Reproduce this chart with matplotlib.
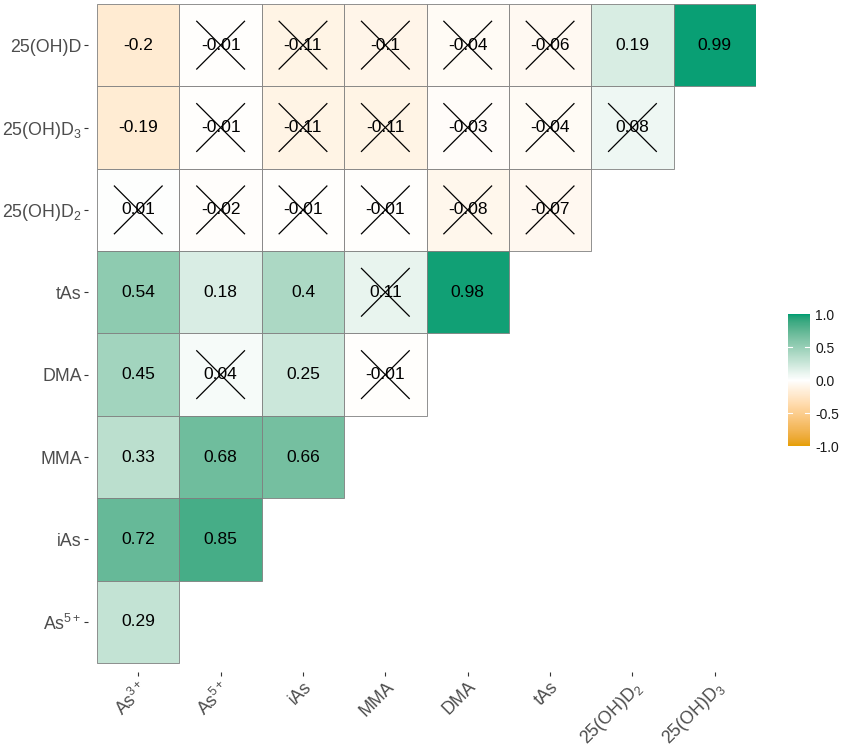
import numpy as np
import matplotlib
matplotlib.use("Agg")
import matplotlib.pyplot as plt
from matplotlib.colors import ListedColormap, Normalize, to_rgb
from matplotlib.patches import Rectangle

plt.rcParams['font.family'] = ['Liberation Sans', 'DejaVu Sans']
plt.rcParams['mathtext.fontset'] = 'custom'
plt.rcParams['mathtext.rm'] = 'Liberation Sans'
plt.rcParams['mathtext.it'] = 'Liberation Sans'

# --- données ---
row_labels = ["25(OH)D", "25(OH)D$_3$", "25(OH)D$_2$", "tAs", "DMA", "MMA", "iAs", "As$^{5+}$"]
col_labels = ["As$^{3+}$", "As$^{5+}$", "iAs", "MMA", "DMA", "tAs", "25(OH)D$_2$", "25(OH)D$_3$"]

r_25ohd = [-0.2, -0.01, -0.11, -0.1, -0.04, -0.06, 0.19, 0.99]
r_d3 = [-0.19, -0.01, -0.11, -0.11, -0.03, -0.04, 0.08]
r_d2 = [0.01, -0.02, -0.01, -0.01, -0.08, -0.07]
r_tas = [0.54, 0.18, 0.4, 0.11, 0.98]
r_dma = [0.45, 0.04, 0.25, -0.01]
r_mma = [0.33, 0.68, 0.66]
r_ias = [0.72, 0.85]
r_as5 = [0.29]

# 1 = non significatif (croix)
ns_25ohd = [0, 1, 1, 1, 1, 1, 0, 0]
ns_d3 = [0, 1, 1, 1, 1, 1, 1]
ns_d2 = [1, 1, 1, 1, 1, 1]
ns_tas = [0, 0, 0, 1, 0]
ns_dma = [0, 1, 0, 1]
ns_mma = [0, 0, 0]
ns_ias = [0, 0]
ns_as5 = [0]

rows = [r_25ohd, r_d3, r_d2, r_tas, r_dma, r_mma, r_ias, r_as5]
flags = [ns_25ohd, ns_d3, ns_d2, ns_tas, ns_dma, ns_mma, ns_ias, ns_as5]


# --- palette interpolée en Lab (comme ggplot) ---
def rgb_to_lab(c):
    c = np.array(c)
    lin = np.where(c <= 0.04045, c / 12.92, ((c + 0.055) / 1.055) ** 2.4)
    m = np.array([[0.4124, 0.3576, 0.1805], [0.2126, 0.7152, 0.0722], [0.0193, 0.1192, 0.9505]])
    xyz = m @ lin / np.array([0.95047, 1.0, 1.08883])
    f = np.where(xyz > 0.008856, np.cbrt(xyz), 7.787 * xyz + 16 / 116)
    return np.array([116 * f[1] - 16, 500 * (f[0] - f[1]), 200 * (f[1] - f[2])])


def lab_to_rgb(lab):
    fy = (lab[0] + 16) / 116
    fx = fy + lab[1] / 500
    fz = fy - lab[2] / 200
    f = np.array([fx, fy, fz])
    xyz = np.where(f ** 3 > 0.008856, f ** 3, (f - 16 / 116) / 7.787) * np.array([0.95047, 1.0, 1.08883])
    minv = np.array([[3.2406, -1.5372, -0.4986], [-0.9689, 1.8758, 0.0415], [0.0557, -0.2040, 1.0570]])
    lin = minv @ xyz
    c = np.where(lin <= 0.0031308, 12.92 * lin, 1.055 * np.clip(lin, 0, None) ** (1 / 2.4) - 0.055)
    return np.clip(c, 0, 1)


lo, mid, hi = [rgb_to_lab(to_rgb(h)) for h in ["#E69F00", "white", "#009E73"]]
cols = []
for t in np.linspace(-1, 1, 256):
    if t < 0:
        cols.append(lab_to_rgb(mid + (lo - mid) * (-t)))
    else:
        cols.append(lab_to_rgb(mid + (hi - mid) * t))
cmap = ListedColormap(cols)
norm = Normalize(-1, 1)

n = len(col_labels)
fig = plt.figure(figsize=(8.48, 7.49), dpi=100)
ax = fig.add_axes([0.1038, 0.1028, 0.7877, 0.8919])

d = 0.29
for i, vals in enumerate(rows):
    for j, v in enumerate(vals):
        ax.add_patch(Rectangle((j - 0.5, i - 0.5), 1, 1, facecolor=cmap(norm(v)),
                               edgecolor='#7F7F7F', linewidth=0.6))
        ax.text(j, i, f"{v:g}", ha='center', va='center', fontsize=12.5, color='black')
        if flags[i][j]:
            ax.plot([j - d, j + d], [i - d, i + d], color='black', lw=0.9)
            ax.plot([j - d, j + d], [i + d, i - d], color='black', lw=0.9)

ax.set_xlim(-0.61, n - 0.5)
ax.set_ylim(len(row_labels) - 0.39, -0.5)

ax.set_xticks(range(n))
ax.set_xticklabels(col_labels, rotation=45, ha='right', va='top', rotation_mode='anchor')
ax.set_yticks(range(len(row_labels)))
ax.set_yticklabels(row_labels)
ax.tick_params(axis='both', labelsize=12.8, labelcolor='#4D4D4D', color='#333333', length=3, width=0.8, pad=1.5)
for s in ax.spines.values():
    s.set_visible(False)

sm = plt.cm.ScalarMappable(norm=norm, cmap=cmap)
cax = fig.add_axes([0.929, 0.4045, 0.026, 0.176])
cb = fig.colorbar(sm, cax=cax, ticks=[-1, -0.5, 0, 0.5, 1])
cb.outline.set_visible(False)
cb.ax.set_yticklabels(["-1.0", "-0.5", "0.0", "0.5", "1.0"])
cb.ax.tick_params(labelsize=10, labelcolor='#1A1A1A', length=0, pad=4)
for t in [-0.5, 0, 0.5]:
    cb.ax.axhline(t, xmin=0, xmax=0.2, color='white', lw=0.8)
    cb.ax.axhline(t, xmin=0.8, xmax=1, color='white', lw=0.8)

fig.savefig("out.png", dpi=100)
